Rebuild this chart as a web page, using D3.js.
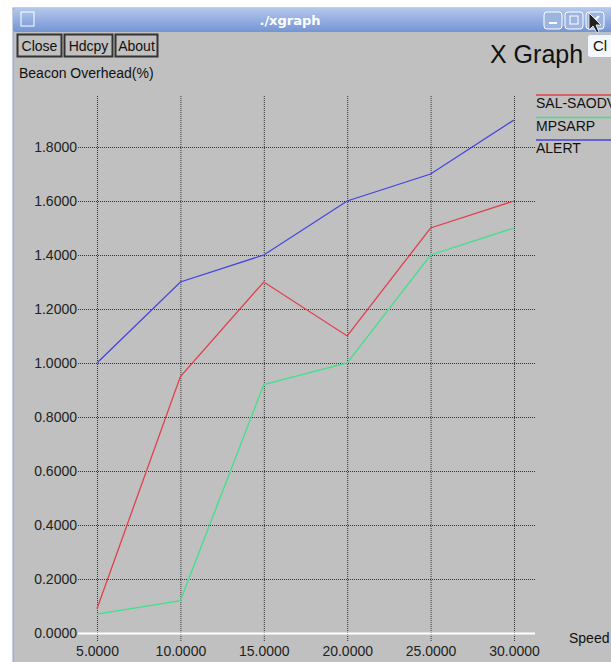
<!DOCTYPE html>
<html>
<head>
<meta charset="utf-8">
<script src="https://cdn.jsdelivr.net/npm/d3@7"></script>
<style>
  body { margin: 0; background: #fff; }
  svg { display: block; font-family: "Liberation Sans", Arial, sans-serif; }
</style>
</head>
<body>
<div id="chart"></div>
<script>
// data
var speeds = [5, 10, 15, 20, 25, 30];
var salSaodv = [0.09, 0.95, 1.30, 1.10, 1.50, 1.60];
var mpsarp = [0.07, 0.12, 0.92, 1.00, 1.40, 1.50];
var alert = [1.00, 1.30, 1.40, 1.60, 1.70, 1.90];
var seriesNames = ["SAL-SAODV", "MPSARP", "ALERT"];
var seriesColors = ["#e0404e", "#40e08c", "#4444e0"];
var yTicks = [0, 0.2, 0.4, 0.6, 0.8, 1.0, 1.2, 1.4, 1.6, 1.8];
var buttons = ["Close", "Hdcpy", "About"];

var svgWidth = 611, svgHeight = 662;

var svg = d3.select("#chart").append("svg")
  .attr("width", svgWidth)
  .attr("height", svgHeight);

// window frame + title bar
var grad = svg.append("defs").append("linearGradient")
  .attr("id", "tbar").attr("x1", 0).attr("y1", 0).attr("x2", 0).attr("y2", 1);
grad.append("stop").attr("offset", "0%").attr("stop-color", "#b4c8ec");
grad.append("stop").attr("offset", "100%").attr("stop-color", "#7494d4");

svg.append("rect").attr("x", 13).attr("y", 8).attr("width", 610).attr("height", 660)
  .attr("fill", "#c0c0c0").attr("stroke", "#8aa0c8");
svg.append("rect").attr("x", 13).attr("y", 8).attr("width", 610).attr("height", 24)
  .attr("rx", 3).attr("fill", "url(#tbar)");
svg.append("rect").attr("x", 21).attr("y", 12).attr("width", 13).attr("height", 14)
  .attr("fill", "none").attr("stroke", "#fff").attr("stroke-width", 1);
svg.append("text").attr("x", 290).attr("y", 25).attr("text-anchor", "middle")
  .attr("font-family", "DejaVu Sans").attr("font-weight", "bold")
  .attr("font-size", "13px").attr("fill", "#fff").text("./xgraph");

// title bar buttons
[544, 565, 586].forEach(function(bx, i) {
  svg.append("rect").attr("x", bx).attr("y", 12).attr("width", 18).attr("height", 17)
    .attr("rx", 3).attr("fill", "#9cb4e0").attr("stroke", "#fff");
  if (i === 0) svg.append("rect").attr("x", bx + 5).attr("y", 22).attr("width", 8).attr("height", 2).attr("fill", "#fff");
  if (i === 1) svg.append("rect").attr("x", bx + 5).attr("y", 16).attr("width", 8).attr("height", 8).attr("fill", "none").attr("stroke", "#fff");
  if (i === 2) svg.append("path").attr("d", `M${bx+5},16L${bx+13},24M${bx+13},16L${bx+5},24`).attr("stroke", "#fff").attr("stroke-width", 2);
});
// mouse pointer
svg.append("path").attr("d", "M589,13 L589,30 L593,26 L597,33 L599,32 L596,25 L601,25 Z")
  .attr("fill", "#222").attr("stroke", "#fff").attr("stroke-width", 0.8);

// xgraph buttons
var bx0 = [17, 64, 115], bw = [44, 48, 42];
buttons.forEach(function(b, i) {
  svg.append("rect").attr("x", bx0[i] + 0.5).attr("y", 34.5).attr("width", bw[i]).attr("height", 22)
    .attr("fill", "#c0c0c0").attr("stroke", "#333").attr("stroke-width", 2);
  svg.append("text").attr("x", bx0[i] + bw[i] / 2 + 0.5).attr("y", 51)
    .attr("text-anchor", "middle").attr("font-size", "14px").attr("fill", "#111").text(b);
});

svg.append("text").attr("x", 490).attr("y", 63).attr("font-size", "25px").attr("fill", "#111").text("X Graph");

// tooltip fragment
svg.append("rect").attr("x", 587.5).attr("y", 34.5).attr("width", 30).attr("height", 23).attr("rx", 3)
  .attr("fill", "#f4f8fc").attr("stroke", "#a8c0e0");
svg.append("text").attr("x", 593).attr("y", 51).attr("font-size", "15px").attr("fill", "#111").text("Cl");

svg.append("text").attr("x", 19).attr("y", 78).attr("font-size", "14px").attr("fill", "#111").text("Beacon Overhead(%)");

// scales
var x = d3.scaleLinear().domain([5, 30]).range([97, 514]);
var y = d3.scaleLinear().domain([0, 1.8]).range([633, 147]);

// vertical grid
var vGrid = svg.append("g").attr("transform", "translate(0,641)")
  .call(d3.axisBottom(x).tickValues(speeds).tickSize(-546).tickFormat(d3.format(".4f")));
vGrid.select(".domain").remove();
vGrid.selectAll(".tick line").attr("stroke", "#333").attr("stroke-dasharray", "1,1");
vGrid.selectAll(".tick text").attr("font-size", "14px").attr("fill", "#222")
  .attr("font-family", "Liberation Sans, Arial, sans-serif").attr("y", 15).attr("dy", "0");

// horizontal grid
var hGrid = svg.append("g").attr("transform", "translate(78,0)")
  .call(d3.axisLeft(y).tickValues(yTicks).tickSize(-457).tickPadding(1).tickFormat(d3.format(".4f")));
hGrid.select(".domain").remove();
hGrid.selectAll(".tick line").attr("stroke", "#333").attr("stroke-dasharray", "1,1");
hGrid.selectAll(".tick text").attr("font-size", "14px").attr("fill", "#222")
  .attr("font-family", "Liberation Sans, Arial, sans-serif");
hGrid.selectAll(".tick").filter(function(d) { return d === 0; }).select("line")
  .attr("stroke", "#fff").attr("stroke-dasharray", null).attr("stroke-width", 2);

svg.append("text").attr("x", 569).attr("y", 643).attr("font-size", "14px").attr("fill", "#111").text("Speed");

// lines
var allSeries = [salSaodv, mpsarp, alert];
var line = d3.line().x(function(d, i) { return x(speeds[i]); }).y(function(d) { return y(d); });
allSeries.forEach(function(s, i) {
  svg.append("path").datum(s).attr("d", line)
    .attr("fill", "none").attr("stroke", seriesColors[i]).attr("stroke-width", 1.3);
});

// legend
seriesNames.forEach(function(n, i) {
  var ly = 95 + i * 22.5;
  svg.append("line").attr("x1", 536).attr("x2", 611).attr("y1", ly).attr("y2", ly)
    .attr("stroke", seriesColors[i]).attr("stroke-width", 1.5);
  svg.append("text").attr("x", 536).attr("y", ly + 13).attr("font-size", "14px").attr("fill", "#111").text(n);
});
</script>
</body>
</html>
